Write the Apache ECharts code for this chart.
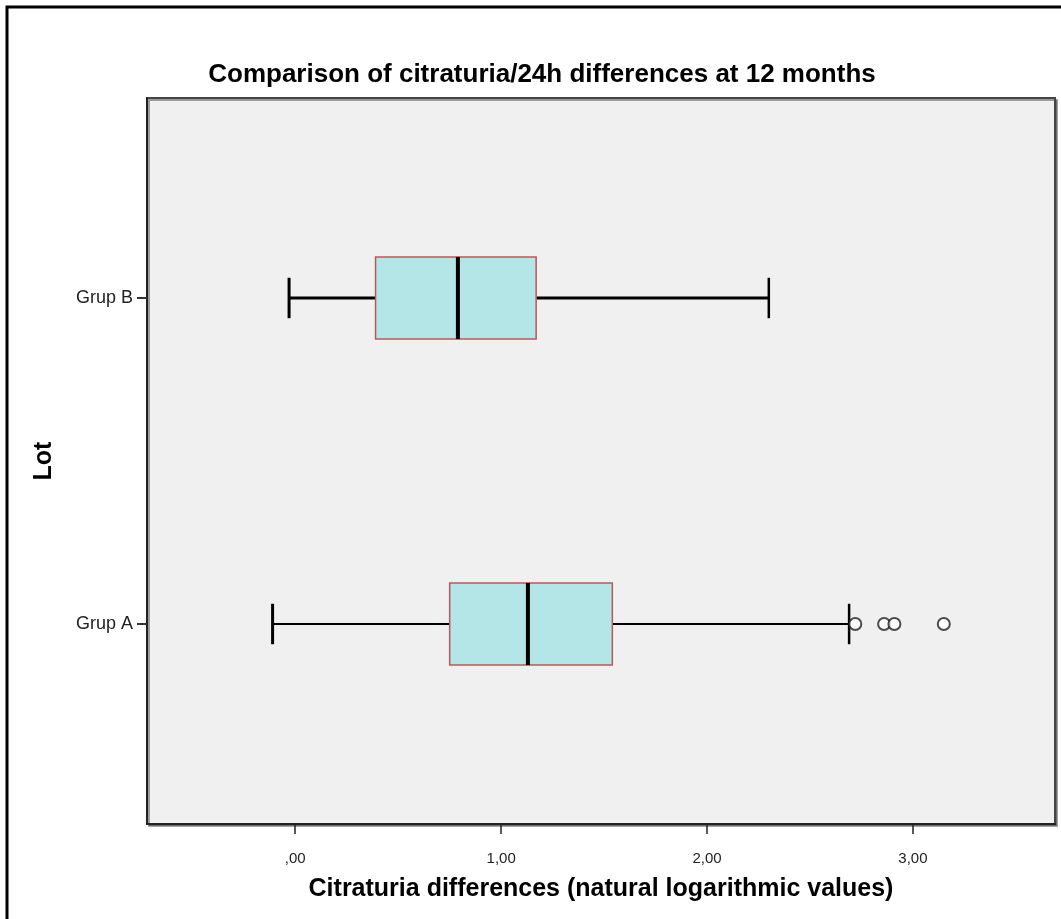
<!DOCTYPE html>
<html>
<head>
<meta charset="utf-8">
<script src="https://cdn.jsdelivr.net/npm/echarts@6/dist/echarts.min.js"></script>
<style>
  html, body { margin: 0; padding: 0; background: #fff; }
  #chart { width: 1061px; height: 919px; }
</style>
</head>
<body>
<div id="chart"></div>
<script>
// groups on the category axis (first one is drawn at the bottom)
const groups = ["Grup A", "Grup B"];
// [lower whisker, Q1, median, Q3, upper whisker] per group
const boxStats = [
  [-0.11, 0.75, 1.13, 1.54, 2.69],
  [-0.03, 0.39, 0.79, 1.17, 2.30]
];
// outliers: [value, group index]
const outliers = [
  [2.72, 0],
  [2.86, 0],
  [2.91, 0],
  [3.15, 0]
];
const xTicks = [0, 1, 2, 3];
const xTickLabels = [",00", "1,00", "2,00", "3,00"];

const xMin = -0.72;
const xMax = 3.69;
const font = "'Liberation Sans', Arial, sans-serif";

const chart = echarts.init(document.getElementById("chart"));

chart.setOption({
  backgroundColor: "#fff",
  animation: false,
  title: {
    text: "Comparison of citraturia/24h differences at 12 months",
    left: 537,
    top: 57,
    textAlign: "center",
    textStyle: { fontFamily: font, fontSize: 26, fontWeight: "bold", color: "#000" }
  },
  graphic: [
    {
      type: "rect",
      z: -10,
      shape: { x: 7, y: 7, width: 1200, height: 1100 },
      style: { fill: "none", stroke: "#000", lineWidth: 3 }
    }
  ],
  grid: [
    {
      // plot frame
      left: 147, right: 6, top: 98, bottom: 95,
      show: true,
      backgroundColor: "#f0f0f0",
      borderColor: "#444",
      borderWidth: 2,
      shadowColor: "rgba(0,0,0,0.35)",
      shadowOffsetX: 2,
      shadowOffsetY: 2,
      shadowBlur: 0
    },
    {
      // data area: category bands centred on the groups
      left: 147, right: 6, top: 135, bottom: 132
    }
  ],
  xAxis: [
    {
      gridIndex: 0,
      type: "value",
      min: xMin,
      max: xMax,
      splitLine: { show: false },
      axisLine: { show: true, onZero: false, lineStyle: { color: "#222", width: 2 } },
      axisTick: {
        show: true,
        customValues: xTicks,
        length: 10,
        lineStyle: { color: "#222", width: 1.5 }
      },
      axisLabel: {
        customValues: xTicks,
        margin: 27,
        fontFamily: font,
        fontSize: 15,
        color: "#222",
        formatter: v => xTickLabels[xTicks.indexOf(v)]
      },
      name: "Citraturia differences (natural logarithmic values)",
      nameLocation: "middle",
      nameGap: 53,
      nameTextStyle: { fontFamily: font, fontSize: 25, fontWeight: "bold", color: "#000" }
    },
    {
      gridIndex: 1,
      type: "value",
      min: xMin,
      max: xMax,
      show: false
    }
  ],
  yAxis: [
    {
      gridIndex: 0,
      type: "value",
      min: 0,
      max: 1,
      splitLine: { show: false },
      axisLine: { show: true, onZero: false, lineStyle: { color: "#222", width: 2 } },
      axisTick: { show: false },
      axisLabel: { show: false },
      name: "Lot",
      nameLocation: "middle",
      nameRotate: 90,
      nameGap: 90,
      nameTextStyle: { fontFamily: font, fontSize: 25, fontWeight: "bold", color: "#000" }
    },
    {
      gridIndex: 1,
      type: "category",
      data: groups,
      axisLine: { show: true, onZero: false, lineStyle: { color: "#222", width: 2 } },
      axisTick: {
        show: true,
        alignWithLabel: true,
        length: 10,
        lineStyle: { color: "#333", width: 2 }
      },
      axisLabel: { margin: 14, fontFamily: font, fontSize: 18, color: "#222" },
      splitLine: { show: false }
    }
  ],
  series: [
    {
      type: "custom",
      xAxisIndex: 1,
      yAxisIndex: 1,
      data: boxStats.map((s, i) => [i].concat(s)),
      encode: { y: 0, x: [1, 2, 3, 4, 5] },
      renderItem: (params, api) => {
        const cat = api.value(0);
        const band = api.size([0, 1])[1];
        const hb = band * 0.126;
        const hc = band * 0.062;
        const p = k => api.coord([api.value(k), cat]);
        const lo = p(1), q1 = p(2), md = p(3), q3 = p(4), hi = p(5);
        const y = lo[1];
        const lw = cat === 1 ? 3 : 2;
        const line = (x1, y1, x2, y2, w) => ({
          type: "line",
          shape: { x1, y1, x2, y2 },
          style: { stroke: "#000", lineWidth: w }
        });
        return {
          type: "group",
          children: [
            line(lo[0], y, q1[0], y, lw),
            line(q3[0], y, hi[0], y, lw),
            line(lo[0], y - hc, lo[0], y + hc, 3),
            line(hi[0], y - hc, hi[0], y + hc, 2.5),
            {
              type: "rect",
              shape: { x: q1[0], y: y - hb, width: q3[0] - q1[0], height: hb * 2 },
              style: { fill: "#b4e6e8", stroke: "#b85858", lineWidth: 1.5 }
            },
            line(md[0], y - hb, md[0], y + hb, 4)
          ]
        };
      }
    },
    {
      type: "scatter",
      xAxisIndex: 1,
      yAxisIndex: 1,
      data: outliers,
      symbol: "emptyCircle",
      symbolSize: 12,
      itemStyle: { color: "#222", borderColor: "#222", borderWidth: 1.8 }
    }
  ]
});
</script>
</body>
</html>
